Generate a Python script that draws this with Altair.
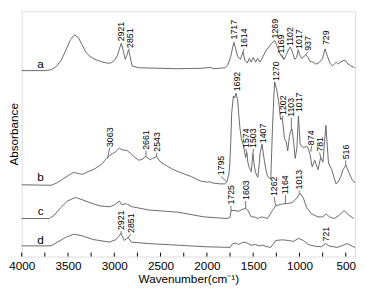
import altair as alt
import pandas as pd

# ---- spectra (wavenumber cm-1, absorbance a.u.) ----
a_wn = [4000,3736,3683,3631,3578,3525,3472,3430,3388,3346,3304,3262,3209,3156,3082,3040,2998,2966,2945,2924,2903,2882,2861,2847,2829,2808,2734,2312,2048,1964,1932,1806,1774,1742,1721,1708,1689,1668,1637,1610,1589,1563,1542,1521,1500,1473,1452,1426,1394,1363,1331,1299,1269,1246,1220,1194,1167,1141,1120,1099,1078,1051,1030,1014,999,977,951,930,909,888,856,824,798,772,751,724,698,671,645,624,603,582,561,540,519,497,476,445,403]
a_ab = [197,197,198,201,207,218,230,235,232,224,216,212,209,207,205,205,208,213,220,226,218,209,214,219,212,202,200,199,199.5,200.5,199,200,203,212,222,227,220,212,209,217,208,205,210,206,211,206,210,206,212,218,222,226,229,224,217,212,209,214,219,222,217,209,211,219,214,210,212,214,211,207,206,204,205,207,210,220,212,205,202,204,206,204,206,207,208,207,204,202,200]

b_wn = [4000,3683,3620,3557,3494,3441,3388,3346,3283,3230,3177,3124,3103,3082,3050,3019,2987,2966,2945,2924,2903,2882,2857,2822,2776,2734,2702,2660,2611,2586,2544,2505,2449,2380,2312,2245,2175,2120,2069,1996,1967,1943,1858,1806,1785,1763,1753,1742,1732,1714,1700,1686,1668,1653,1642,1626,1608,1595,1581,1568,1558,1545,1531,1521,1503,1489,1475,1450,1436,1426,1405,1380,1363,1345,1310,1292,1278,1268,1246,1222,1204,1186,1162,1144,1127,1109,1099,1081,1064,1046,1028,1011,993,958,922,903,888,863,835,800,771,747,729,715,687,652,606,582,553,529,500,466,434,402]
b_ab = [76,75.5,78,82,86,89,88,87,90,92,95,99,102,104,107,109,111,113,115,113.5,113,112.5,112,109,105,102,103,106,102.5,104,106,100.5,97,93,90,87.5,85,82.5,80,78.7,79.3,78,77,77,79,87,97,122,152,170,168,173,166,147,135,124,119,112,105,110,100,95,92,90,109,97,89,84,97,109,119,102,92,85,82,135,167,185,177,162,145,147,125,122,112,127,132,135,122,104,115,149,119,115,117,114,109,95,102,92,105,100,122,139,99,92,77,79,85,92,97,89,82,78]

c_wn = [4000,3701,3649,3578,3507,3420,3349,3262,3156,3051,2998,2945,2917,2882,2857,2805,2628,2312,2030,1784,1750,1739,1697,1661,1608,1581,1556,1521,1486,1450,1415,1380,1345,1292,1257,1204,1152,1081,1028,993,958,923,870,800,747,712,677,624,571,519,466,413]
c_ab = [40.3,40.3,43.7,52,58.7,62.7,60.3,57,53.7,52.7,54.7,58.7,54.7,56,55.3,52.7,49.3,47,42,40.3,41.3,48.7,48.7,48,50.3,51,48.7,42,42,40.3,42,41.3,40.3,48.7,53.7,55.3,56,57,62,67,62,52,45.3,42,42,45.3,42,40.3,43.7,48.7,43.7,40.3]

d_wn = [4000,3683,3613,3525,3438,3349,3227,3051,2980,2927,2892,2850,2815,2628,2312,1996,1750,1721,1686,1661,1608,1573,1521,1475,1433,1397,1345,1310,1257,1186,1117,1064,1011,958,906,835,765,719,677,589,484,431,400]
d_ab = [11.3,11.3,15.3,20.3,23.7,22,18,15.3,18,24.3,17,20.3,15.3,13.7,12,10.3,9.7,13.7,14.3,12.7,15.3,14.7,12,12.7,11.3,12,10.3,9.7,17,17.7,17,16,19.3,17,12.7,11,10.3,13.7,11,9.7,13.7,11,9.7]

# ---- peak annotations ----
ann_text = ["2921","2851","1717","1614","1269","1169","1102","1017","937","729",
            "3063","2661","2543","1795","1692","1574","1503","1407","1270","1202","1103","1017","874","781","516",
            "1725","1603","1262","1164","1013",
            "2921","2851","721"]
ann_x = [2924,2829,1708,1598,1264,1194,1099,1001,906,712,
         3050,2657,2541,1848,1674,1581,1497,1397,1257,1176,1088,1001,870,782,501,
         1742,1581,1275,1152,1004,
         2927,2822,712]
ann_y = [227,220,229,220,230,214,222,219,217,223,
         115,112,110,85,174,114,114,119,185,149,147,152,117,110,102,
         54,59,63,65,70,
         27,24,15]
tip_x = [2924,2847,1708,1610,1264,1167,1099,1001,930,712,
         3072,2660,2544,1785,1674,1568,1503,1397,1257,1186,1088,1001,877,771,501,
         1739,1581,1257,1152,1004,
         2927,2850,712]
tip_y = [227,219,229,217,230,209,222,219,214,223,
         104,106,106,79,174,110,109,119,185,147,134,152,111,105,97,
         49,51,54,56,67,
         24,20,15]

series_names = ["a", "b", "c", "d"]
series_lab_x = [3796, 3796, 3796, 3796]
series_lab_y = [203.7, 83.7, 47.7, 17.7]

major_ticks = [4000, 3500, 3000, 2500, 2000, 1500, 1000, 500]
minor_ticks = [3750, 3250, 2750, 2250, 1750, 1250, 750]

# ---- build tables ----
frames = []
for name, wn, ab in [("a", a_wn, a_ab), ("b", b_wn, b_ab), ("c", c_wn, c_ab), ("d", d_wn, d_ab)]:
    frames.append(pd.DataFrame({"wn": wn, "ab": ab, "series": name, "order": range(len(wn))}))
spec = pd.concat(frames, ignore_index=True)

ann = pd.DataFrame({"text": ann_text, "x": ann_x, "y": ann_y, "tx": tip_x, "ty": tip_y})
labs = pd.DataFrame({"text": series_names, "x": series_lab_x, "y": series_lab_y})
ticks = pd.DataFrame({"wn": major_ticks + minor_ticks})

W, H = 341, 251
xs = alt.Scale(domain=[400, 4000], reverse=True, nice=False, zero=False)
ys = alt.Scale(domain=[0, 260], nice=False, zero=False)

FONT = "Liberation Sans"
GRAY = "#585858"

xaxis = alt.Axis(values=major_ticks, format="d", ticks=False, domain=False, grid=False,
                 labelFontSize=12, labelFont=FONT, labelColor="#000", labelPadding=4,
                 title="Wavenumber(cm⁻¹)", titleFontSize=12, titleFont=FONT,
                 titleFontWeight="normal", titleColor="#000", titlePadding=3,
                 labelFlush=False, labelOverlap=False)
yaxis = alt.Axis(labels=False, ticks=False, domain=False, grid=False,
                 title="Absorbance", titleFontSize=12, titleFont=FONT,
                 titleFontWeight="normal", titleColor="#000", titlePadding=1)

lines = alt.Chart(spec).mark_line(color=GRAY, strokeWidth=0.9).encode(
    x=alt.X("wn:Q", scale=xs, axis=xaxis),
    y=alt.Y("ab:Q", scale=ys, axis=yaxis),
    detail="series:N",
    order="order:Q",
)

leaders = alt.Chart(ann).mark_rule(color="#333", strokeWidth=0.7).encode(
    x=alt.X("x:Q", scale=xs), y=alt.Y("y:Q", scale=ys),
    x2="tx:Q", y2="ty:Q",
)

texts = alt.Chart(ann).mark_text(angle=270, align="left", baseline="middle",
                                 fontSize=9, font=FONT, color="#000", dx=1).encode(
    x=alt.X("x:Q", scale=xs), y=alt.Y("y:Q", scale=ys), text="text:N",
)

series_text = alt.Chart(labs).mark_text(fontSize=12, font=FONT, color="#000",
                                        baseline="middle", align="center").encode(
    x=alt.X("x:Q", scale=xs), y=alt.Y("y:Q", scale=ys), text="text:N",
)

tick_marks = alt.Chart(ticks).mark_rule(color="#000", strokeWidth=1).encode(
    x=alt.X("wn:Q", scale=xs),
    y=alt.value(H),
    y2=alt.value(H - 4),
)

chart = alt.layer(lines, leaders, texts, series_text, tick_marks).properties(
    width=W, height=H,
    autosize=alt.AutoSizeParams(type="none"),
    padding={"left": 14, "top": 0, "right": 2, "bottom": 31},
).configure_view(stroke="#000", strokeWidth=1).configure(background="white")

chart.save("out.html", embed_options={"renderer": "svg", "actions": False})
